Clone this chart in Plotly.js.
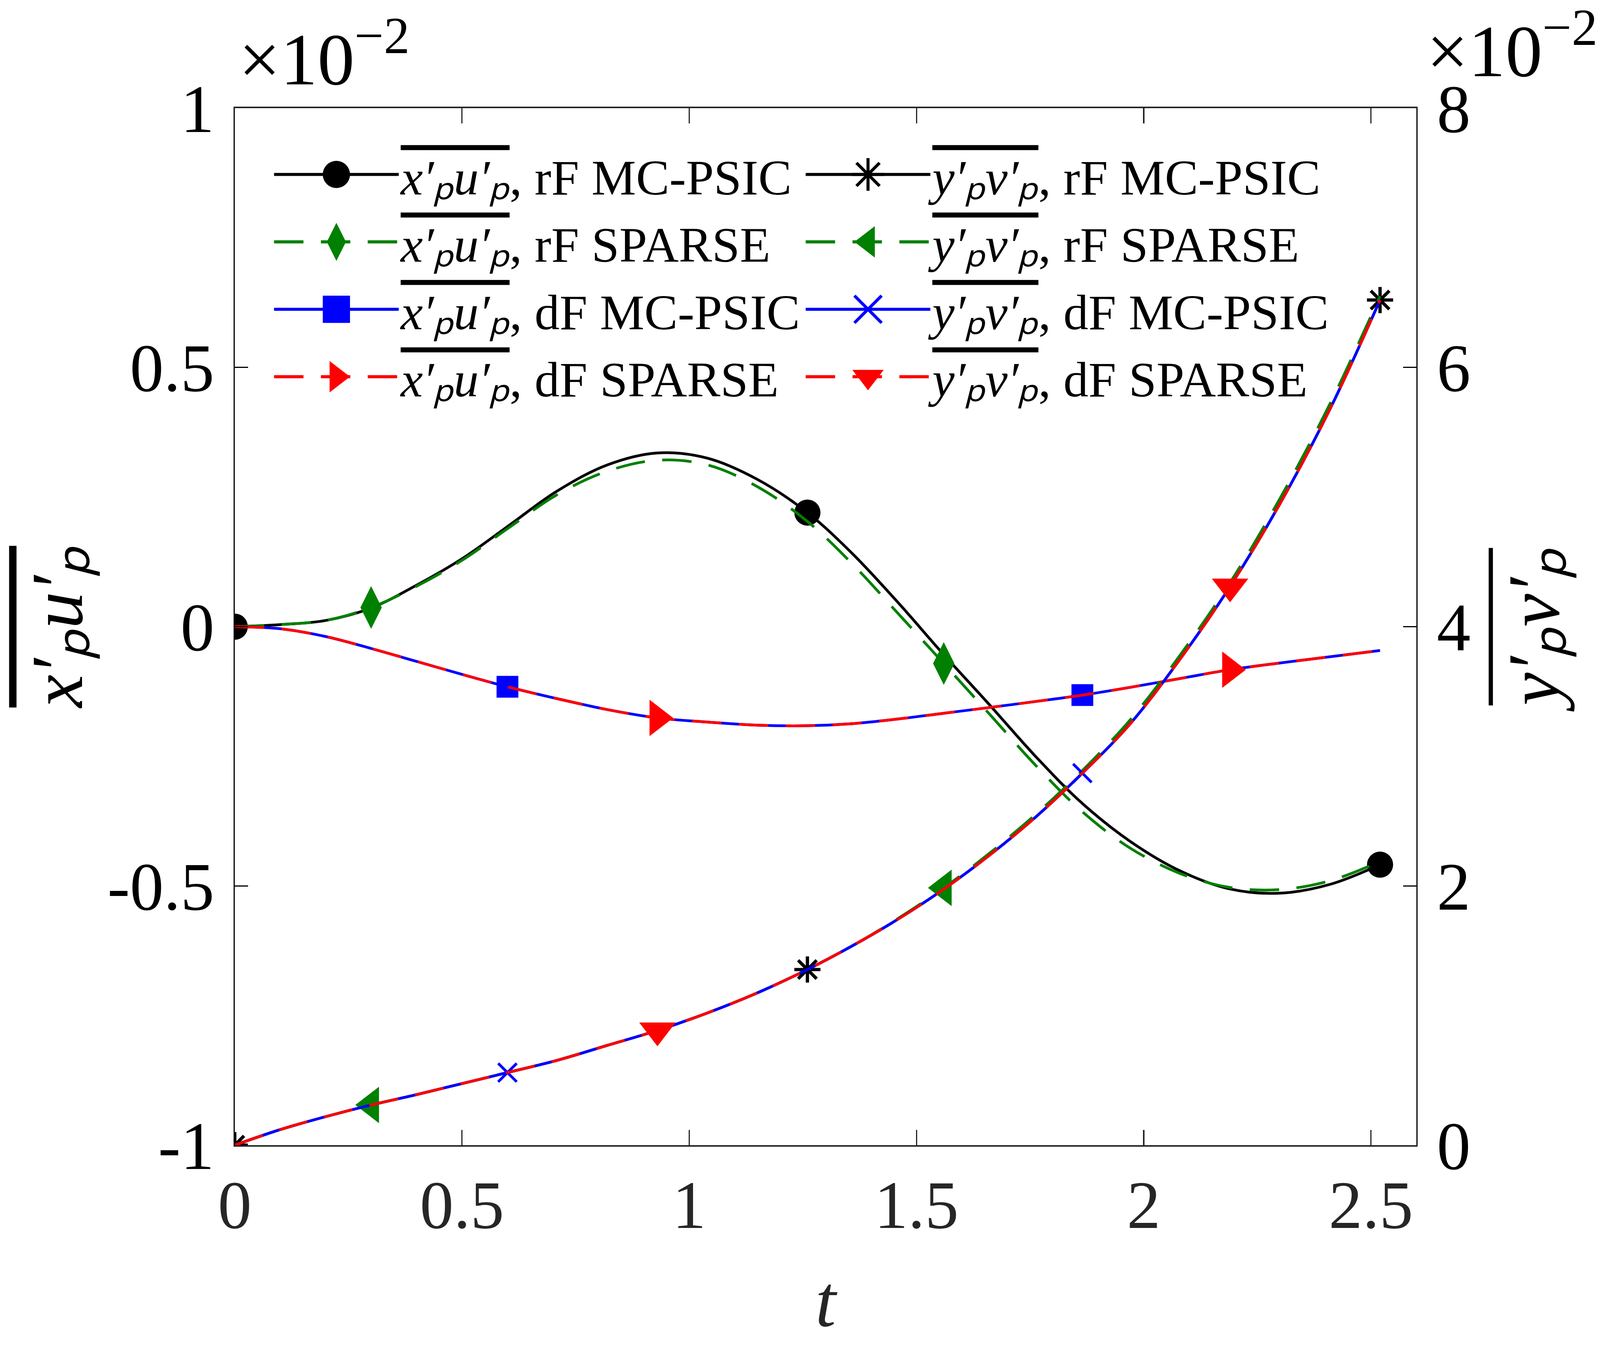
<!DOCTYPE html>
<html>
<head>
<meta charset="utf-8">
<script src="https://cdn.plot.ly/plotly-3.0.1.min.js"></script>
<style>
  html, body { margin: 0; padding: 0; background: #fff; overflow: hidden; }
</style>
</head>
<body>
<div id="chart"></div>
<script>
// time samples (markers sit on every 3rd sample)
const t = [0, 0.10, 0.20, 0.30, 0.40, 0.50, 0.60, 0.71, 0.82, 0.93, 1.04, 1.15, 1.26,
  1.36, 1.46, 1.56, 1.66, 1.765, 1.865, 1.97, 2.08, 2.19, 2.30, 2.41, 2.52];

// x'u' (x 1e-2), left axis
const xuRfMcpsic = [0, 0.004, 0.012, 0.036, 0.080, 0.131, 0.193, 0.262, 0.312, 0.335, 0.325, 0.284, 0.220,
  0.140, 0.046, -0.054, -0.150, -0.253, -0.341, -0.414, -0.471, -0.506, -0.514, -0.497, -0.459];
const xuRfSparse = [0, 0.004, 0.012, 0.037, 0.078, 0.128, 0.189, 0.255, 0.300, 0.321, 0.312, 0.270, 0.203,
  0.120, 0.025, -0.071, -0.168, -0.270, -0.357, -0.427, -0.476, -0.503, -0.507, -0.490, -0.453];
const xuDfMcpsic = [0, -0.004, -0.019, -0.042, -0.067, -0.092, -0.116, -0.139, -0.160, -0.176, -0.184, -0.190, -0.191,
  -0.187, -0.178, -0.167, -0.156, -0.144, -0.132, -0.117, -0.100, -0.083, -0.070, -0.058, -0.046];
const xuDfSparse = [0, -0.004, -0.019, -0.042, -0.067, -0.092, -0.116, -0.139, -0.160, -0.176, -0.184, -0.190, -0.191,
  -0.187, -0.178, -0.167, -0.156, -0.144, -0.132, -0.117, -0.100, -0.083, -0.070, -0.058, -0.046];

// y'v' (x 1e-2), right axis
const yvRfMcpsic = [0, 0.12, 0.22, 0.31, 0.39, 0.475, 0.56, 0.655, 0.77, 0.885, 1.02, 1.175, 1.355,
  1.54, 1.745, 1.975, 2.235, 2.54, 2.87, 3.25, 3.75, 4.31, 4.95, 5.68, 6.52];
const yvRfSparse = [0, 0.12, 0.22, 0.31, 0.39, 0.475, 0.56, 0.655, 0.77, 0.885, 1.02, 1.175, 1.355,
  1.54, 1.75, 1.985, 2.25, 2.56, 2.89, 3.28, 3.78, 4.34, 4.99, 5.72, 6.55];
const yvDfMcpsic = [0, 0.12, 0.22, 0.31, 0.39, 0.475, 0.56, 0.655, 0.77, 0.885, 1.02, 1.175, 1.355,
  1.54, 1.745, 1.975, 2.235, 2.54, 2.87, 3.25, 3.75, 4.31, 4.95, 5.68, 6.52];
const yvDfSparse = [0, 0.12, 0.22, 0.31, 0.39, 0.475, 0.56, 0.655, 0.77, 0.885, 1.02, 1.175, 1.355,
  1.54, 1.745, 1.975, 2.235, 2.54, 2.87, 3.25, 3.75, 4.31, 4.95, 5.68, 6.52];

const xTicks = [0, 0.5, 1, 1.5, 2, 2.5];
const xTickText = ['0', '0.5', '1', '1.5', '2', '2.5'];
const yLeftTicks = [-1, -0.5, 0, 0.5, 1];
const yLeftTickText = ['-1', '-0.5', '0', '0.5', '1'];
const yRightTicks = [0, 2, 4, 6, 8];
const yRightTickText = ['0', '2', '4', '6', '8'];

// sizes below are written for a 1568x1176 figure and scaled to the window
const W = window.innerWidth || 4667;
const H = window.innerHeight || 3500;
const KX = W / 1568;
const KY = H / 1176;
const KF = Math.sqrt(KX * KY);
const sx = v => v * KX;
const sy = v => v * KY;
const sf = v => v * KF;

const FONT = 'Liberation Serif, Times New Roman, serif';
const GREEN = 'rgb(0,128,0)';
const DASH = sf(27) + 'px,' + sf(16) + 'px';

const xu = '<span style="text-decoration:overline"><i>x′ₚu′ₚ</i></span>';
const yv = '<span style="text-decoration:overline"><i>y′ₚv′ₚ</i></span>';
const big = s => '<span style="font-size:' + sx(49) + 'px">' + s + '</span>';

const series = [
  { y: xuRfMcpsic, axis: 'y', name: xu + ', rF MC-PSIC', color: 'black', dash: 'solid', symbol: 'circle', size: 24, offset: 0 },
  { y: xuRfSparse, axis: 'y', name: xu + ', rF SPARSE', color: GREEN, dash: DASH, symbol: 'diamond-tall', size: 28, offset: 3 },
  { y: xuDfMcpsic, axis: 'y', name: xu + ', dF MC-PSIC', color: 'blue', dash: 'solid', symbol: 'square', size: 20, offset: 6 },
  { y: xuDfSparse, axis: 'y', name: xu + ', dF SPARSE', color: 'red', dash: DASH, symbol: 'triangle-right', size: 29, offset: 9 },
  { y: yvRfMcpsic, axis: 'y2', name: yv + ', rF MC-PSIC', color: 'black', dash: 'solid', symbol: 'asterisk-open', size: 20, offset: 0, lw: 3 },
  { y: yvRfSparse, axis: 'y2', name: yv + ', rF SPARSE', color: GREEN, dash: DASH, symbol: 'triangle-left', size: 29, offset: 3 },
  { y: yvDfMcpsic, axis: 'y2', name: yv + ', dF MC-PSIC', color: 'blue', dash: 'solid', symbol: 'x-thin-open', size: 17, offset: 6, lw: 2.5 },
  { y: yvDfSparse, axis: 'y2', name: yv + ', dF SPARSE', color: 'red', dash: DASH, symbol: 'triangle-down', size: 29, offset: 9 }
];

function markerSizes(s) {
  return t.map((_, i) => (i % 12 === s.offset ? sf(s.size) : 0));
}

const data = series.map(s => ({
  type: 'scatter',
  mode: 'lines+markers',
  x: t,
  y: s.y,
  yaxis: s.axis,
  showlegend: false,
  hoverinfo: 'skip',
  line: { color: s.color, width: sf(2.5), dash: s.dash, shape: 'spline', smoothing: 1 },
  marker: { symbol: s.symbol, color: s.color, opacity: 1, size: markerSizes(s), line: { color: s.color, width: sf(s.lw || 0) } }
}));

// legend entries: two columns, x'u' left and y'v' right
const legendOrder = [0, 4, 1, 5, 2, 6, 3, 7];
legendOrder.forEach(k => {
  const s = series[k];
  data.push({
    type: 'scatter',
    mode: 'lines+markers',
    x: [null],
    y: [null],
    name: big(s.name),
    hoverinfo: 'skip',
    line: { color: s.color, width: sf(2.8), dash: s.dash },
    marker: { symbol: s.symbol, color: s.color, opacity: 1, size: sf(s.size), line: { color: s.color, width: sf(s.lw || 0) } }
  });
});

const axisBase = {
  ticks: 'inside',
  tickwidth: sf(1.2),
  showline: true,
  linewidth: sf(1.2),
  showgrid: false,
  zeroline: false,
  tickfont: { size: sf(62) }
};

const itemWidth = sx(126) - 10;

const layout = {
  width: W,
  height: H,
  margin: { l: sx(230), r: sx(180), t: sy(93), b: sy(191) },
  paper_bgcolor: 'white',
  plot_bgcolor: 'white',
  font: { family: FONT, color: 'black', size: sf(62) },
  showlegend: true,
  xaxis: Object.assign({}, axisBase, {
    range: [0, 2.6],
    tickvals: xTicks,
    ticktext: xTickText,
    ticklen: sy(13),
    tickcolor: '#262626',
    linecolor: '#262626',
    linewidth: sf(1.5),
    mirror: 'ticks',
    tickfont: { size: sf(62), color: '#262626' },
    title: { text: '<i>t</i>', font: { size: sf(68), color: '#262626' }, standoff: sy(28) }
  }),
  yaxis: Object.assign({}, axisBase, {
    range: [-1, 1],
    tickvals: yLeftTicks,
    ticktext: yLeftTickText.map(s => s + '\u200a'),
    ticklen: sx(13),
    tickcolor: 'black',
    linecolor: 'black',
    title: { text: xu, font: { size: sf(68) }, standoff: 0 }
  }),
  yaxis2: Object.assign({}, axisBase, {
    overlaying: 'y',
    side: 'right',
    range: [0, 8],
    tickvals: yRightTicks,
    ticktext: yRightTickText.map(s => '\u200a' + s),
    ticklen: sx(13),
    tickcolor: 'black',
    linecolor: 'black',
    title: { text: yv, font: { size: sf(68) }, standoff: sx(36) }
  }),
  legend: {
    orientation: 'h',
    x: 0.0316,
    xanchor: 'left',
    y: 0.9705,
    yanchor: 'top',
    itemwidth: itemWidth,
    entrywidth: sx(521) - itemWidth - 15,
    entrywidthmode: 'pixels',
    font: { size: (sy(58) - 3) / 1.3 },
    bgcolor: 'rgba(0,0,0,0)',
    borderwidth: 0,
    traceorder: 'normal'
  },
  annotations: [
    { xref: 'paper', yref: 'paper', x: 0, y: 1, xanchor: 'left', yanchor: 'bottom', xshift: sx(3), yshift: sy(6),
      text: '×10<sup>−2</sup>', showarrow: false, font: { size: sf(68) } },
    { xref: 'paper', yref: 'paper', x: 1, y: 1, xanchor: 'left', yanchor: 'bottom', xshift: sx(9), yshift: sy(13),
      text: '×10<sup>−2</sup>', showarrow: false, font: { size: sf(68) } }
  ]
};

Plotly.newPlot('chart', data, layout, { displayModeBar: false, staticPlot: true }).then(gd => {
  // plotly caps legend marker size at 16px, enlarge the symbols to match the figure
  const grow = sf(25) / 16;
  gd.querySelectorAll('.legend path.scatterpts').forEach(p => {
    p.setAttribute('transform', (p.getAttribute('transform') || '') + ' scale(' + grow + ')');
    p.style.vectorEffect = 'non-scaling-stroke';
    if (parseFloat(p.style.strokeWidth) > 0) p.style.strokeWidth = sf(2.8) + 'px';
  });
});
</script>
</body>
</html>
